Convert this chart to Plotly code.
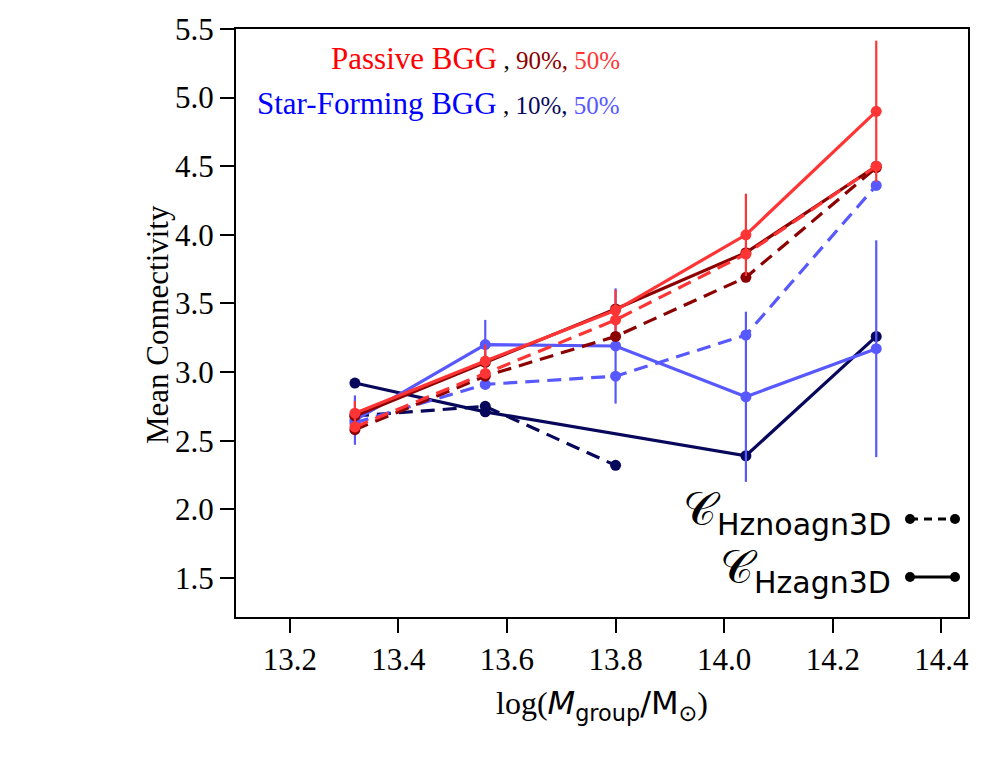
import plotly.graph_objects as go

# ---------------- data ----------------
mass_bins = [13.32, 13.56, 13.80, 14.04, 14.28]

# Passive BGG, 50% (Hzagn3D, solid) with error bars
pas50_agn = [2.70, 3.08, 3.45, 4.00, 4.90]
pas50_agn_err = [0.09, 0.12, 0.15, 0.30, 0.515]
# Passive BGG, 90% (Hzagn3D, solid)
pas90_agn = [2.68, 3.07, 3.46, 3.87, 4.50]
# Passive BGG, 50% (Hznoagn3D, dashed)
pas50_noagn = [2.60, 2.99, 3.38, 3.86, 4.50]
# Passive BGG, 90% (Hznoagn3D, dashed)
pas90_noagn = [2.58, 2.97, 3.26, 3.69, 4.49]

# Star-forming BGG, 50% (Hzagn3D, solid) with error bars
sf50_agn = [2.65, 3.20, 3.19, 2.82, 3.17]
sf50_agn_err = [0.18, 0.18, 0.42, 0.62, 0.79]
# Star-forming BGG, 50% (Hznoagn3D, dashed)
sf50_noagn = [2.63, 2.91, 2.97, 3.27, 4.36]
# Star-forming BGG, 10% (Hzagn3D, solid) - no value in 13.80 bin
sf10_agn_x = [13.32, 13.56, 14.04, 14.28]
sf10_agn = [2.92, 2.71, 2.39, 3.26]
# Star-forming BGG, 10% (Hznoagn3D, dashed) - first three bins only
sf10_noagn_x = [13.32, 13.56, 13.80]
sf10_noagn = [2.68, 2.75, 2.32]

x_ticks = [13.2, 13.4, 13.6, 13.8, 14.0, 14.2, 14.4]
y_ticks = [1.5, 2.0, 2.5, 3.0, 3.5, 4.0, 4.5, 5.0, 5.5]

# ---------------- style ----------------
RED = "#ff3535"
DARKRED = "#8c0000"
BLUE = "#5858ff"
NAVY = "#07075c"
SERIF = "Liberation Serif"
SANS = "DejaVu Sans"

W, H = 1008, 758
L, R, T, B = 236, 40, 29, 141
PW, PH = W - L - R, H - T - B


def px(xp):
    return (xp - L) / PW


def py(yp):
    return (H - B - yp) / PH


fig = go.Figure()


def add(x, y, color, dash, err=None):
    kw = {}
    if err is not None:
        kw["error_y"] = dict(type="data", array=err, visible=True,
                             color=color, thickness=2.2, width=0)
    fig.add_trace(go.Scatter(
        x=x, y=y, mode="lines+markers",
        line=dict(color=color, width=3.2,
                  dash="14px,8px" if dash == "dash" else "solid"),
        marker=dict(color=color, size=11),
        showlegend=False, **kw))


add(sf10_agn_x, sf10_agn, NAVY, "solid")
add(sf10_noagn_x, sf10_noagn, NAVY, "dash")
add(mass_bins, sf50_agn, BLUE, "solid", sf50_agn_err)
add(mass_bins, sf50_noagn, BLUE, "dash")
add(mass_bins, pas90_agn, DARKRED, "solid")
add(mass_bins, pas90_noagn, DARKRED, "dash")
add(mass_bins, pas50_agn, RED, "solid", pas50_agn_err)
add(mass_bins, pas50_noagn, RED, "dash")

axis_common = dict(
    showline=True, linecolor="black", linewidth=2, mirror=True,
    ticks="outside", ticklen=14, tickwidth=2, tickcolor="black",
    showgrid=False, zeroline=False,
    tickfont=dict(family=SERIF, size=31, color="black"),
)

fig.update_xaxes(range=[13.101, 14.449], tickvals=x_ticks,
                 ticktext=[f"{v:.1f}" for v in x_ticks], **axis_common)
fig.update_yaxes(range=[1.215, 5.5], tickvals=y_ticks,
                 ticktext=[f"{v:.1f}" for v in y_ticks], **axis_common)

annotations = []
# axis titles
annotations.append(dict(
    xref="paper", yref="paper", x=px(157), y=py(325), showarrow=False,
    text="Mean Connectivity", textangle=-90,
    font=dict(family=SERIF, size=31, color="black"),
    xanchor="center", yanchor="middle"))
annotations.append(dict(
    xref="paper", yref="paper", x=px(602), y=py(705), showarrow=False,
    text=(f'log(<span style="font-family:{SANS}"><i>M</i><sub>group</sub>'
          f'/M<sub>⊙</sub></span>)'),
    font=dict(family=SERIF, size=32, color="black"),
    xanchor="center", yanchor="middle"))

# top-left legend text
annotations.append(dict(
    xref="paper", yref="paper", x=px(622), y=py(58), showarrow=False,
    xanchor="right", yanchor="middle",
    text=('<span style="color:#ff0000">Passive BGG</span>'
          '<span style="font-size:25px"> , '
          f'<span style="color:{DARKRED}">90%,</span> '
          f'<span style="color:{RED}">50%</span></span>'),
    font=dict(family=SERIF, size=31, color="black")))
annotations.append(dict(
    xref="paper", yref="paper", x=px(622), y=py(104), showarrow=False,
    xanchor="right", yanchor="middle",
    text=('<span style="color:#0000ff">Star-Forming BGG</span>'
          '<span style="font-size:25px"> , '
          f'<span style="color:{NAVY}">10%,</span> '
          f'<span style="color:{BLUE}">50%</span></span>'),
    font=dict(family=SERIF, size=31, color="black")))

# bottom-right legend text
for ylab, sub in [(512, "Hznoagn3D"), (570, "Hzagn3D")]:
    annotations.append(dict(
        xref="paper", yref="paper", x=px(893), y=py(ylab), showarrow=False,
        xanchor="right", yanchor="middle",
        text=(f'𝒞<sub><span style="font-size:30px">{sub}</span></sub>'),
        font=dict(family=SANS, size=46, color="black")))

fig.update_layout(annotations=annotations)

# legend glyphs (line sample with dots at both ends)
shapes = []
for ylab, dash in [(519, "dash"), (577, "solid")]:
    shapes.append(dict(type="line", xref="paper", yref="paper",
                       x0=px(910), x1=px(955), y0=py(ylab), y1=py(ylab),
                       line=dict(color="black", width=2.8,
                                 dash="8px,6px" if dash == "dash" else "solid")))
    for xc in (910, 955):
        shapes.append(dict(type="circle", xref="paper", yref="paper",
                           xsizemode="pixel", ysizemode="pixel",
                           xanchor=px(xc), yanchor=py(ylab),
                           x0=-5, x1=5, y0=-5, y1=5,
                           fillcolor="black", line=dict(width=0)))
fig.update_layout(shapes=shapes)

fig.update_layout(
    width=W, height=H,
    margin=dict(l=L, r=R, t=T, b=B, pad=0),
    plot_bgcolor="white", paper_bgcolor="white",
)

fig.write_html("out.html")
